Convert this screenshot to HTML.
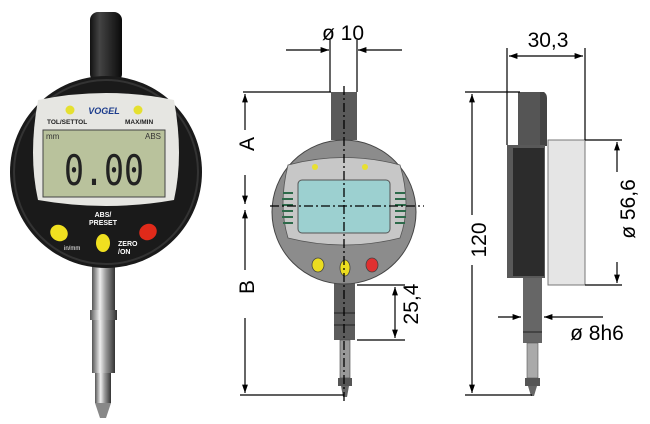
<!DOCTYPE html>
<html><head><style>
html,body{margin:0;padding:0;background:#fff;width:650px;height:424px;overflow:hidden}
svg{display:block}
text{font-family:"Liberation Sans",sans-serif}
</style></head><body>
<svg width="650" height="424" viewBox="0 0 650 424" xmlns="http://www.w3.org/2000/svg">
<defs>
<marker id="ar" viewBox="0 0 10 10" refX="10" refY="5" markerWidth="7" markerHeight="7" orient="auto-start-reverse"><path d="M0,1.5 L10,5 L0,8.5 z" fill="#000"/></marker>
<linearGradient id="chrome" x1="0" x2="1"><stop offset="0" stop-color="#555"/><stop offset=".35" stop-color="#eee"/><stop offset=".6" stop-color="#999"/><stop offset="1" stop-color="#333"/></linearGradient>
<linearGradient id="stemg" x1="0" x2="1"><stop offset="0" stop-color="#111"/><stop offset=".3" stop-color="#444"/><stop offset="1" stop-color="#0a0a0a"/></linearGradient>
</defs>
<!-- LEFT PHOTO -->
<rect x="90" y="12" width="32" height="70" rx="8" fill="url(#stemg)"/>
<rect x="92" y="258" width="23" height="115" fill="url(#chrome)"/>
<rect x="90" y="310" width="27" height="10" fill="url(#chrome)"/>
<rect x="95" y="373" width="16" height="30" fill="url(#chrome)"/>
<path d="M95,403 L111,403 L106,418 L100,418 z" fill="#888"/>
<circle cx="106" cy="172" r="96" fill="#1a1a1a"/>
<circle cx="106" cy="172" r="92" fill="none" stroke="#333" stroke-width="2"/>
<path d="M38,100 Q106,86 174,100 Q184,155 174,200 Q106,212 38,200 Q28,155 38,100 z" fill="#e6e6e2"/>
<rect x="43" y="130" width="122" height="67" fill="#b9c29c" stroke="#444" stroke-width="1"/>
<text x="46" y="139" font-size="8" fill="#333">mm</text>
<text x="145" y="139" font-size="8" fill="#333">ABS</text>
<text x="104" y="185" font-size="42" fill="#222" text-anchor="middle" font-weight="normal" style="font-family:'DejaVu Sans Mono',monospace" textLength="80" lengthAdjust="spacingAndGlyphs">0.00</text>
<circle cx="70" cy="110" r="4.5" fill="#e5e030"/>
<circle cx="138" cy="110" r="4.5" fill="#e5e030"/>
<text x="104" y="114" font-size="9" font-weight="bold" fill="#1c3c8c" text-anchor="middle" font-style="italic">VOGEL</text>
<text x="47" y="124" font-size="6.5" font-weight="bold" fill="#222">TOL/SETTOL</text>
<text x="125" y="124" font-size="6.5" font-weight="bold" fill="#222">MAX/MIN</text>
<text x="103" y="217" font-size="7" font-weight="bold" fill="#fff" text-anchor="middle">ABS/</text>
<text x="103" y="225" font-size="7" font-weight="bold" fill="#fff" text-anchor="middle">PRESET</text>
<ellipse cx="59" cy="233" rx="9" ry="8" fill="#f0e020" transform="rotate(30 59 233)"/>
<ellipse cx="103" cy="243" rx="7" ry="9" fill="#f0e020"/>
<ellipse cx="148" cy="232" rx="9" ry="8" fill="#e02a1a" transform="rotate(-30 148 232)"/>
<text x="64" y="250" font-size="6" fill="#fff">in/mm</text>
<text x="118" y="246" font-size="7" font-weight="bold" fill="#fff">ZERO</text>
<text x="118" y="254" font-size="7" font-weight="bold" fill="#fff">/ON</text>

<!-- MIDDLE DRAWING -->
<rect x="331" y="92" width="26" height="48" fill="#5a5a5a"/>
<rect x="334" y="283" width="21" height="57" fill="#5c5c5c"/>
<line x1="334" y1="313" x2="355" y2="313" stroke="#222"/>
<line x1="334" y1="325" x2="355" y2="325" stroke="#222"/>
<rect x="340" y="340" width="10" height="38" fill="#999" stroke="#444" stroke-width=".6"/>
<rect x="338" y="378" width="14" height="8" fill="#555"/>
<path d="M341,386 L349,386 L347,397 L343,397 z" fill="#666"/>
<circle cx="344" cy="212" r="72" fill="#8c8c8c" stroke="#444" stroke-width="1"/>
<path d="M288,165 Q344,150 400,165 Q412,205 400,238 Q344,252 288,238 Q278,205 288,165 z" fill="#c7c7c7" stroke="#555" stroke-width=".8"/>
<g stroke="#2d6a4a" stroke-width="2">
<line x1="283" y1="193" x2="293" y2="193"/><line x1="282" y1="199" x2="293" y2="199"/><line x1="282" y1="205" x2="293" y2="205"/><line x1="282" y1="211" x2="293" y2="211"/><line x1="282" y1="217" x2="293" y2="217"/><line x1="283" y1="223" x2="293" y2="223"/>
<line x1="395" y1="193" x2="405" y2="193"/><line x1="395" y1="199" x2="406" y2="199"/><line x1="395" y1="205" x2="406" y2="205"/><line x1="395" y1="211" x2="406" y2="211"/><line x1="395" y1="217" x2="406" y2="217"/><line x1="395" y1="223" x2="405" y2="223"/>
</g>
<rect x="298" y="180" width="92" height="53" rx="4" fill="#9cd0d0" stroke="#555"/>
<circle cx="315" cy="167" r="3" fill="#e8e030"/>
<circle cx="365" cy="167" r="3" fill="#e8e030"/>
<ellipse cx="318" cy="265" rx="6" ry="7" fill="#ecdd20" stroke="#444" stroke-width=".8"/>
<ellipse cx="345" cy="268" rx="5" ry="8" fill="#ecdd20" stroke="#444" stroke-width=".8"/>
<ellipse cx="372" cy="265" rx="6" ry="7" fill="#e03030" stroke="#444" stroke-width=".8"/>
<g stroke="#000" stroke-width="1.3" stroke-dasharray="9,3,2,3" fill="none">
<line x1="344" y1="86" x2="344" y2="404"/>
<line x1="270" y1="206" x2="424" y2="206"/>
</g>
<g stroke="#000" stroke-width="1.2" fill="none">
<line x1="243" y1="92" x2="331" y2="92"/>
<line x1="330" y1="40" x2="330" y2="92"/>
<line x1="357" y1="40" x2="357" y2="92"/>
<line x1="286" y1="50" x2="329" y2="50" marker-end="url(#ar)"/>
<line x1="402" y1="50" x2="358" y2="50" marker-end="url(#ar)"/>
<line x1="245" y1="94" x2="245" y2="130" marker-start="url(#ar)"/>
<line x1="245" y1="175" x2="245" y2="204" marker-end="url(#ar)"/>
<line x1="245" y1="210" x2="245" y2="270" marker-start="url(#ar)"/>
<line x1="245" y1="318" x2="245" y2="393" marker-end="url(#ar)"/>
<line x1="240" y1="395" x2="344" y2="395"/>
<line x1="357" y1="285" x2="405" y2="285"/>
<line x1="357" y1="340" x2="405" y2="340"/>
<line x1="395" y1="287" x2="395" y2="338" marker-start="url(#ar)" marker-end="url(#ar)"/>
</g>
<text x="343" y="40" font-size="21" text-anchor="middle">ø 10</text>
<text x="262" y="152" font-size="21" text-anchor="middle" transform="rotate(-90 254 152)">A</text>
<text x="262" y="295" font-size="21" text-anchor="middle" transform="rotate(-90 254 295)">B</text>
<text x="418" y="320" font-size="21" text-anchor="middle" transform="rotate(-90 410 312)">25,4</text>

<!-- RIGHT DRAWING -->
<rect x="518" y="92" width="26" height="55" fill="#555"/>
<path d="M540,92 L544,92 Q547,94 547,98 L547,146 L540,146 z" fill="#444"/>
<rect x="507" y="145" width="38" height="133" fill="#595959"/>
<rect x="513" y="148" width="31" height="128" fill="#2c2c2c"/>
<rect x="548" y="140" width="37" height="145" fill="#e5e5e5" stroke="#777"/>
<rect x="523" y="278" width="19" height="65" fill="#666"/>
<line x1="523" y1="332" x2="542" y2="332" stroke="#222"/>
<rect x="527" y="343" width="11" height="35" fill="#aaa" stroke="#555" stroke-width=".6"/>
<rect x="525" y="378" width="15" height="8" fill="#555"/>
<path d="M528,386 L537,386 L534,396 L531,396 z" fill="#666"/>
<g stroke="#000" stroke-width="1.2" fill="none">
<line x1="465" y1="92" x2="520" y2="92"/>
<line x1="465" y1="395" x2="532" y2="395"/>
<line x1="472" y1="94" x2="472" y2="215" marker-start="url(#ar)"/>
<line x1="472" y1="265" x2="472" y2="393" marker-end="url(#ar)"/>
<line x1="507" y1="48" x2="507" y2="145"/>
<line x1="585" y1="48" x2="585" y2="140"/>
<line x1="509" y1="56" x2="583" y2="56" marker-start="url(#ar)" marker-end="url(#ar)"/>
<line x1="585" y1="140" x2="622" y2="140"/>
<line x1="585" y1="285" x2="622" y2="285"/>
<line x1="617" y1="142" x2="617" y2="172" marker-start="url(#ar)"/>
<line x1="617" y1="262" x2="617" y2="283" marker-end="url(#ar)"/>
<line x1="498" y1="317" x2="521" y2="317" marker-end="url(#ar)"/>
<line x1="603" y1="317" x2="544" y2="317" marker-end="url(#ar)"/>
</g>
<text x="548" y="47" font-size="21" text-anchor="middle">30,3</text>
<text x="479" y="247" font-size="21" text-anchor="middle" transform="rotate(-90 479 240)">120</text>
<text x="636" y="224" font-size="21" text-anchor="middle" transform="rotate(-90 628 217)">ø 56,6</text>
<text x="597" y="340" font-size="21" text-anchor="middle">ø 8h6</text>
</svg>
</body></html>
